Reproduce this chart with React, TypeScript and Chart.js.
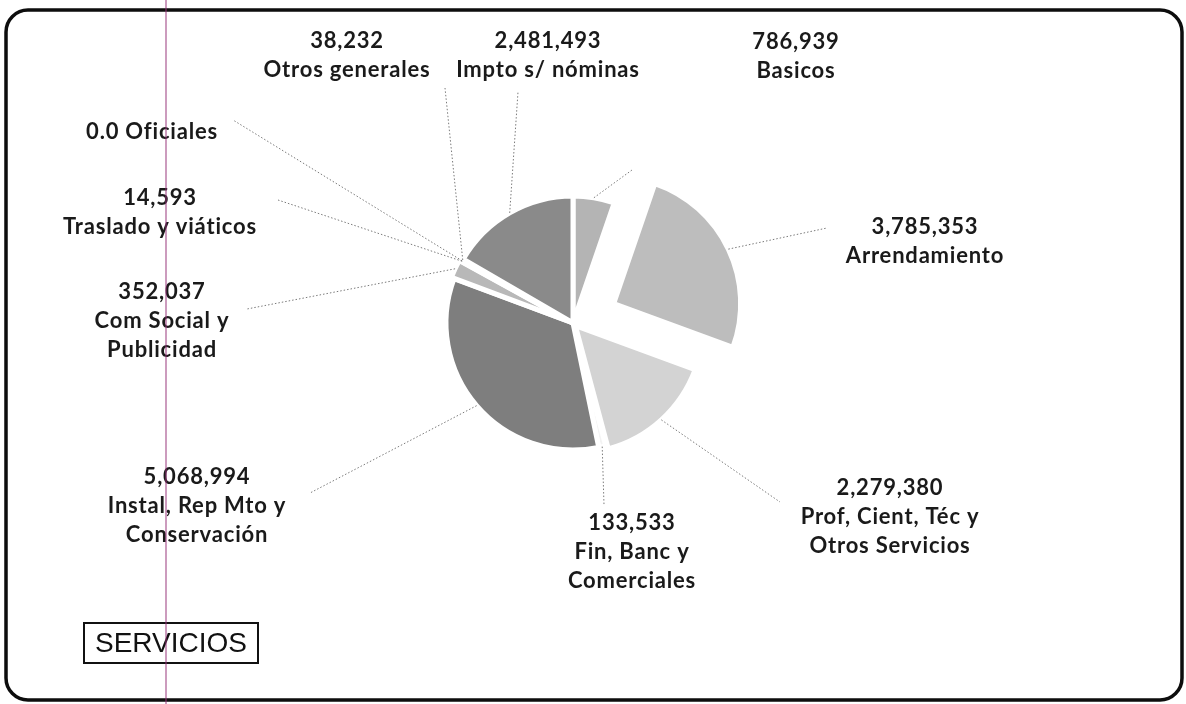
import React, { useEffect, useRef } from "react";
import { Chart, registerables } from "chart.js";

Chart.register(...registerables);

// ---- data ----
const categories = [
  "Basicos",
  "Arrendamiento",
  "Prof, Cient, Téc y|Otros Servicios",
  "Fin, Banc y|Comerciales",
  "Instal, Rep Mto y|Conservación",
  "Com Social y|Publicidad",
  "Traslado y viáticos",
  "Oficiales",
  "Otros generales",
  "Impto s/ nóminas",
];
const values = [786939, 3785353, 2279380, 133533, 5068994, 352037, 14593, 0, 38232, 2481493];
const valueLabels = [
  "786,939",
  "3,785,353",
  "2,279,380",
  "133,533",
  "5,068,994",
  "352,037",
  "14,593",
  "0.0",
  "38,232",
  "2,481,493",
];
const chartTitle = "SERVICIOS";

// ---- styles / layout (not data) ----
const sliceColors = [
  "#b4b4b4",
  "#bdbdbd",
  "#d3d3d3",
  "#f3f3f3",
  "#7e7e7e",
  "#b8b8b8",
  "#9a9a9a",
  "#9a9a9a",
  "#a8a8a8",
  "#8a8a8a",
];
// Chart.js arc offset (drawn displacement ≈ offset/4 for wide slices)
const sliceOffsets = [0, 180, 14, 0, 0, 6, 0, 0, 0, 0];
// label anchor: [centerX, firstLineY, leaderEndX, leaderEndY, inline]
const labelLayout: [number, number, number, number, boolean][] = [
  [796, 42, 632, 170, false],
  [925, 227, 827, 228, false],
  [890, 488, 780, 502, false],
  [632, 523, 604, 505, false],
  [197, 477, 310, 493, false],
  [162, 292, 247, 309, false],
  [160, 198, 278, 200, false],
  [152, 132, 233, 120, true],
  [347, 41, 445, 88, false],
  [548, 41, 518, 92, false],
];

const FONT = "bold 22px Lato, 'DejaVu Sans', sans-serif";

function drawnOffset(arc: any, off: number) {
  const circ = arc.endAngle - arc.startAngle;
  const fix = 1 - Math.sin(Math.min(Math.PI, circ || 0));
  return (off / 4) * (1 + fix);
}

const decorPlugin = {
  id: "decor",
  afterDraw(chart: any) {
    const ctx: CanvasRenderingContext2D = chart.ctx;
    const meta = chart.getDatasetMeta(0);
    ctx.save();
    // leader lines
    ctx.setLineDash([1.5, 2]);
    ctx.strokeStyle = "#7a7a7a";
    ctx.lineWidth = 1;
    meta.data.forEach((arc: any, i: number) => {
      const p = arc.getProps(["x", "y", "startAngle", "endAngle", "outerRadius"], true);
      const mid = (p.startAngle + p.endAngle) / 2;
      const r = p.outerRadius + drawnOffset(p, sliceOffsets[i]);
      const sx = p.x + Math.cos(mid) * r;
      const sy = p.y + Math.sin(mid) * r;
      const L = labelLayout[i];
      ctx.beginPath();
      ctx.moveTo(sx, sy);
      ctx.lineTo(L[2], L[3]);
      ctx.stroke();
    });
    ctx.setLineDash([]);
    // labels
    ctx.fillStyle = "#1a1a1a";
    ctx.font = FONT;
    (ctx as any).letterSpacing = "0.8px";
    ctx.textAlign = "center";
    ctx.textBaseline = "middle";
    categories.forEach((cat, i) => {
      const L = labelLayout[i];
      const lines = L[4]
        ? [valueLabels[i] + " " + cat]
        : [valueLabels[i], ...cat.split("|")];
      lines.forEach((t, k) => {
        ctx.fillText(t, L[0], L[1] + k * 29);
      });
    });
    (ctx as any).letterSpacing = "0px";
    // title box
    ctx.font = "28px 'Liberation Sans', Arial, sans-serif";
    ctx.textAlign = "center";
    ctx.fillStyle = "#111";
    ctx.fillText(chartTitle, 171, 644);
    ctx.strokeStyle = "#111";
    ctx.lineWidth = 2;
    ctx.strokeRect(84, 623, 174, 40);
    // outer frame
    ctx.lineWidth = 3.5;
    ctx.strokeStyle = "#0d0d0d";
    ctx.beginPath();
    (ctx as any).roundRect(6, 10, 1176, 690, 22);
    ctx.stroke();
    // scan artifact line
    ctx.strokeStyle = "rgba(150,50,120,0.75)";
    ctx.lineWidth = 1.3;
    ctx.beginPath();
    ctx.moveTo(166, 0);
    ctx.lineTo(166, 704);
    ctx.stroke();
    ctx.restore();
  },
};

export default function App() {
  const ref = useRef<HTMLCanvasElement | null>(null);
  useEffect(() => {
    document.body.style.margin = "0";
    const chart = new Chart(ref.current as HTMLCanvasElement, {
      type: "pie",
      data: {
        labels: categories.map((c) => c.replace("|", " ")),
        datasets: [
          {
            data: values,
            backgroundColor: sliceColors,
            borderColor: "#ffffff",
            borderWidth: 5,
            offset: sliceOffsets,
          } as any,
        ],
      },
      options: {
        animation: false,
        responsive: true,
        maintainAspectRatio: false,
        radius: 127,
        layout: { padding: { left: 0, right: 40, top: 0, bottom: 58 } },
        plugins: {
          legend: { display: false },
          tooltip: { enabled: false },
        },
      } as any,
      plugins: [decorPlugin],
    });
    return () => chart.destroy();
  }, []);
  return (
    <div style={{ position: "absolute", left: 0, top: 0, width: 1186, height: 704, background: "#fff" }}>
      <canvas ref={ref} />
    </div>
  );
}
